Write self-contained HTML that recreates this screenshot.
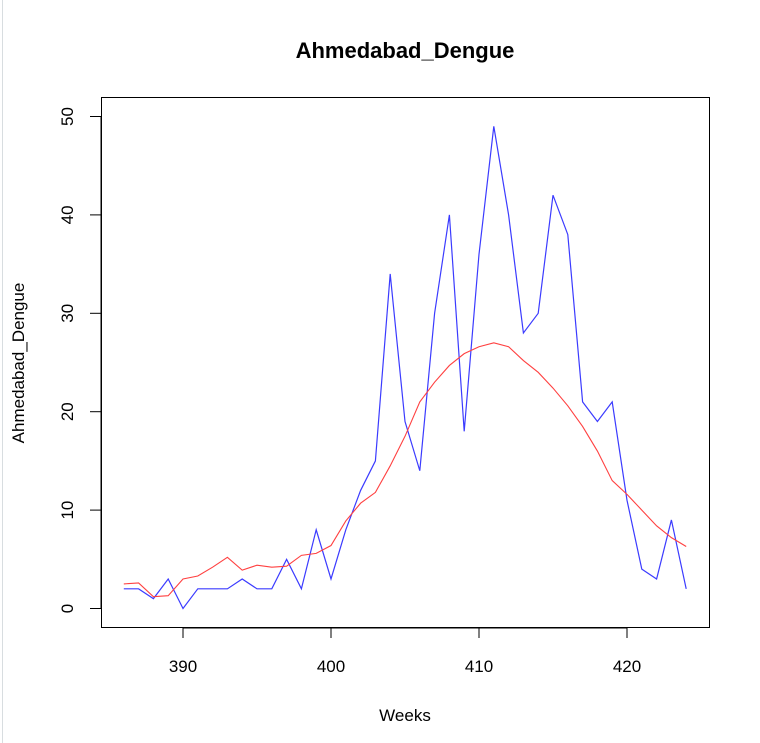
<!DOCTYPE html>
<html><head><meta charset="utf-8"><style>
html,body{margin:0;padding:0;background:#fff;}
svg{display:block;font-family:"Liberation Sans",Arial,sans-serif;}
</style></head><body>
<svg id="chart" width="760" height="743" viewBox="0 0 760 743">
<line x1="2.5" y1="0" x2="2.5" y2="743" stroke="#d8dde0" stroke-width="1"/>
<text x="405" y="58" text-anchor="middle" font-size="22" font-weight="bold">Ahmedabad_Dengue</text>
<rect x="101.5" y="97.5" width="608" height="530" fill="none" stroke="#000"/>
<text x="405" y="721" text-anchor="middle" font-size="17">Weeks</text>
<text transform="translate(24,363) rotate(-90)" text-anchor="middle" font-size="17">Ahmedabad_Dengue</text>
<g id="xaxis"></g>
<g id="yaxis"></g>
<g id="series"></g>
</svg>
<script>
const weeks=[386,387,388,389,390,391,392,393,394,395,396,397,398,399,400,401,402,403,404,405,406,407,408,409,410,411,412,413,414,415,416,417,418,419,420,421,422,423,424];
const actual=[2,2,1,3,0,2,2,2,3,2,2,5,2,8,3,8,12,15,34,19,14,30,40,18,36,49,40,28,30,42,38,21,19,21,11,4,3,9,2];
const fitted=[2.5,2.6,1.2,1.3,3.0,3.3,4.2,5.2,3.9,4.4,4.2,4.3,5.4,5.6,6.4,8.9,10.7,11.8,14.5,17.5,21,23,24.7,25.9,26.6,27.0,26.6,25.2,24.0,22.4,20.6,18.5,16.0,13.0,11.6,10.0,8.4,7.2,6.3];
const xTicks=[390,400,410,420];
const yTicks=[0,10,20,30,40,50];
const NS='http://www.w3.org/2000/svg';
const xs=v=>183+(v-390)*14.8;
const ys=v=>608.5-v*9.84;
const xa=document.getElementById('xaxis'),ya=document.getElementById('yaxis'),sg=document.getElementById('series');
function mk(tag,attrs,parent){const e=document.createElementNS(NS,tag);for(const k in attrs)e.setAttribute(k,attrs[k]);parent.appendChild(e);return e;}
mk('line',{x1:xs(xTicks[0]),x2:xs(xTicks[xTicks.length-1]),y1:628,y2:628,stroke:'#000'},xa);
xTicks.forEach(t=>{
 const l=mk('line',{x1:xs(t),x2:xs(t),y1:628,y2:638,stroke:'#000'},xa);
 
 
 const tx=mk('text',{x:xs(t),y:672,'text-anchor':'middle','font-size':17},xa);tx.textContent=t;
 
 
});
mk('line',{x1:101,x2:101,y1:ys(yTicks[0]),y2:ys(yTicks[yTicks.length-1]),stroke:'#000'},ya);
yTicks.forEach(t=>{
 const l=mk('line',{x1:90,x2:101,y1:ys(t),y2:ys(t),stroke:'#000'},ya);
 
 
 const tx=mk('text',{x:0,y:0,'text-anchor':'middle','font-size':17,transform:`translate(73,${ys(t)}) rotate(-90)`},ya);tx.textContent=t;
 
 
});
const pa=mk('polyline',{points:weeks.map((w,i)=>xs(w)+','+ys(actual[i])).join(' '),fill:'none',stroke:'#3b3bff','stroke-width':1.2},sg);


const pf=mk('polyline',{points:weeks.map((w,i)=>xs(w)+','+ys(fitted[i])).join(' '),fill:'none',stroke:'#ff4040','stroke-width':1.1},sg);


</script>
</body></html>
